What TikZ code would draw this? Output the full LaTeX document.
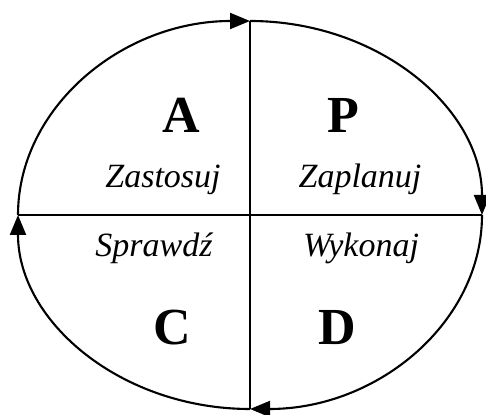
\documentclass[tikz,border=0pt]{standalone}
\usepackage{fontspec}
\setmainfont{Liberation Serif}
\usetikzlibrary{arrows.meta}
\begin{document}
\begin{tikzpicture}[x=1pt,y=1pt,
  ring/.style={line width=2.1pt,-{Triangle[length=20pt,width=16pt]}},
  axis/.style={line width=2.1pt},
  big/.style={anchor=base,font=\fontsize{52}{52}\selectfont\bfseries},
  word/.style={anchor=base,font=\fontsize{34}{34}\selectfont\itshape}]
\useasboundingbox (0,0) rectangle (486,414);
\coordinate (c) at (250,199);
\coordinate (w) at (18,199);
\coordinate (e) at (482,199);
\coordinate (n) at (250,393);
\coordinate (s) at (250,5);
\draw[ring] (w) arc[start angle=180,end angle=90,x radius=232,y radius=194];
\draw[ring] (n) arc[start angle=90,end angle=0,x radius=232,y radius=194];
\draw[ring] (e) arc[start angle=0,end angle=-90,x radius=232,y radius=194];
\draw[ring] (s) arc[start angle=-90,end angle=-180,x radius=232,y radius=194];
\draw[axis] (n) -- (s);
\draw[axis] (w) -- (e);
\node[big] (A) at (181,281) {A};
\node[big] (P) at (343,281) {P};
\node[big] (C) at (172,69) {C};
\node[big] (D) at (337,69) {D};
\node[word] (act) at (163,226) {Zastosuj};
\node[word] (plan) at (360,226) {Zaplanuj};
\node[word] (check) at (154,157) {Sprawdź};
\node[word] (do) at (361,157) {Wykonaj};
\end{tikzpicture}
\end{document}
